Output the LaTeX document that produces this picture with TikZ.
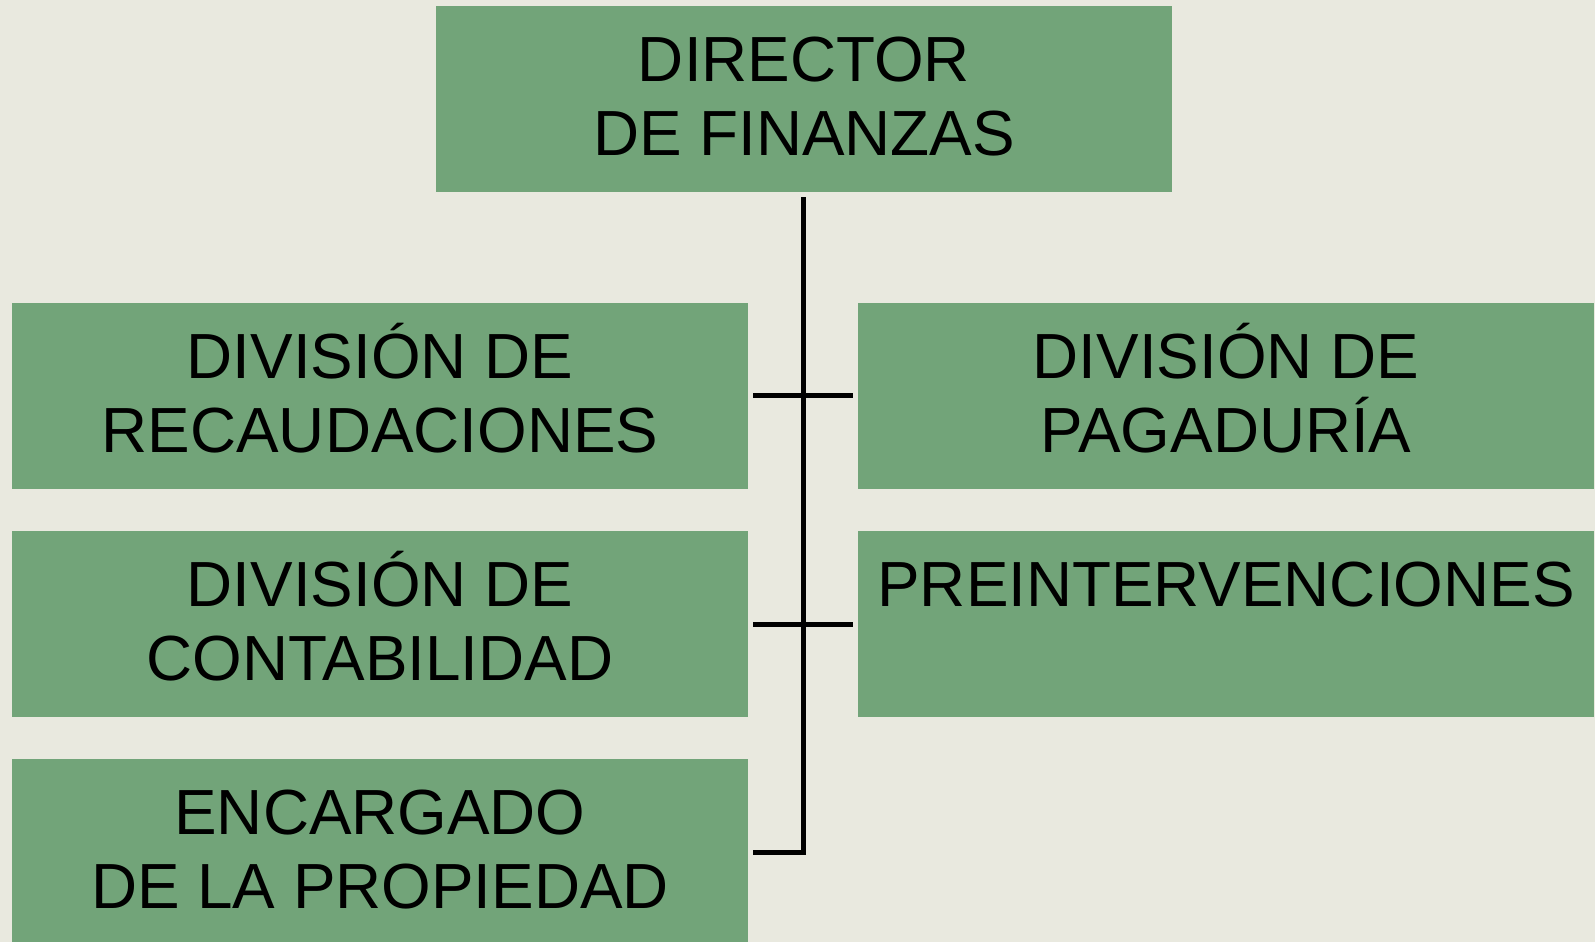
\documentclass[tikz,border=0pt]{standalone}
\usepackage{fontspec}
\setmainfont{Liberation Sans}
\usetikzlibrary{positioning}
\usetikzlibrary{calc}
\definecolor{fondo}{RGB}{233,233,223}
\definecolor{verde}{RGB}{114,164,121}

\begin{document}
\begin{tikzpicture}[
         x=0.5pt,y=-0.5pt,
         unidad/.style={rectangle,fill=verde,minimum width=368pt,minimum height=93pt,inner sep=0pt,
                        text height=67pt,text depth=10.5pt,
                        align=center,font=\fontsize{31.9}{37}\selectfont},
         enlace/.style={black,line width=2.5pt}]
      %
         \useasboundingbox[fill=fondo] (0,0) rectangle (1595,942);
      %
         \node (dir) at (804,99) [unidad]{DIRECTOR\\DE FINANZAS};
      %% left column
         \node (recaud) at (380,395.5) [unidad]{DIVISIÓN DE\\RECAUDACIONES};
         \node (contab) at (380,624) [unidad]{DIVISIÓN DE\\CONTABILIDAD};
         \node (propied) at (380,852) [unidad]{ENCARGADO\\DE LA PROPIEDAD};
      %% right column
         \node (pagad) at (1226,395.5) [unidad]{DIVISIÓN DE\\PAGADURÍA};
         \node (preint) at (1226,624) [unidad]{PREINTERVENCIONES\\\mbox{}};
      %
         \draw[enlace] ([xshift=-0.5pt,yshift=-2.5pt]dir.south) |- ([xshift=2.5pt]propied.east);
         \draw[enlace] ([xshift=2.5pt]recaud.east) -- ([xshift=-2.5pt]pagad.west);
         \draw[enlace] ([xshift=2.5pt]contab.east) -- ([xshift=-2.5pt]preint.west);
   \end{tikzpicture}
\end{document}
